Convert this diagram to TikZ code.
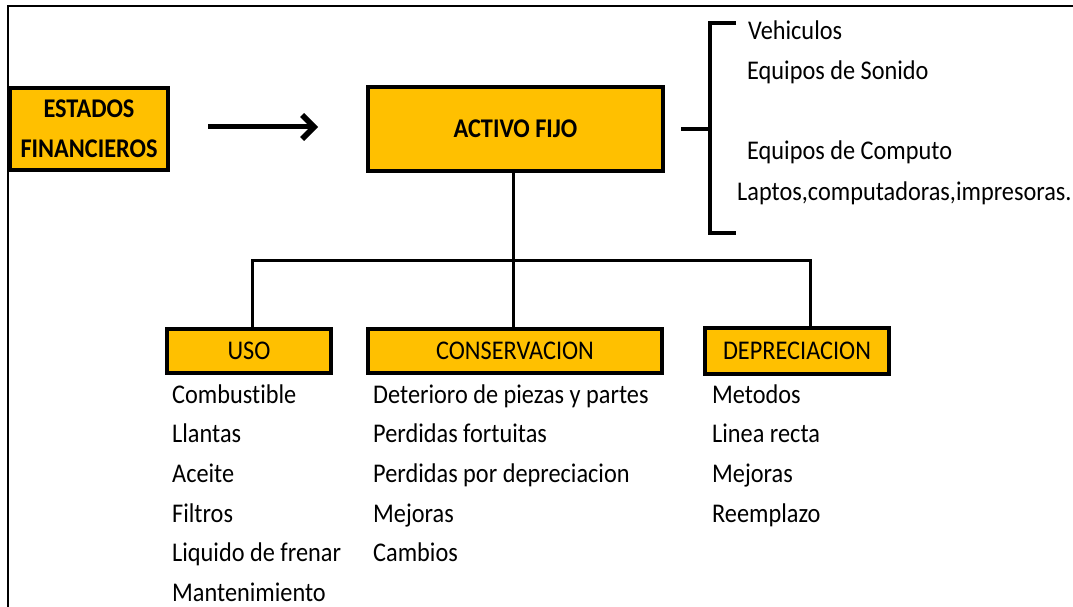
\documentclass[tikz,border=0pt]{standalone}
\usepackage{fontspec}
\setmainfont{Carlito}[FakeStretch=0.9,Ligatures=NoCommon]
\usetikzlibrary{arrows.meta}
\definecolor{gold}{HTML}{FFC000}
\tikzset{
  hbox/.style={draw=black, fill=gold, line width=3.5pt, inner sep=0pt, align=center},
  bigbox/.style={hbox, line width=4pt, font=\fontsize{27}{40}\selectfont\bfseries},
  catbox/.style={hbox, font=\fontsize{27}{27}\selectfont},
  item/.style={anchor=base west, inner sep=0pt, font=\fontsize{27}{27}\selectfont},
  conn/.style={line width=3pt},
  brk/.style={line width=4.5pt},
}
\begin{document}
\begin{tikzpicture}[x=1pt,y=-1pt]
\useasboundingbox (0,0) rectangle (1073,607);
% frame
\draw[line width=2pt] (1073,6) -- (8,6) -- (8,607);
% main boxes
\node[bigbox, minimum width=158pt, minimum height=82pt] (efin) at (89,129) {ESTADOS\\FINANCIEROS};
\node[bigbox, minimum width=295pt, minimum height=84pt] (activo) at (515.5,129) {ACTIVO FIJO};
\coordinate (a1) at (208,127);
\coordinate (a2) at (318,127);
\draw[line width=5pt, -{Straight Barb[length=12pt,width=24pt,line width=5.5pt]}] (a1) -- (a2);
% bracket
\coordinate (bs) at (681,129);
\coordinate (bm) at (710,129);
\coordinate (bt) at (710,23);
\coordinate (bb) at (710,233);
\coordinate (bte) at (736,23);
\coordinate (bbe) at (736,233);
\draw[brk] (bs) -- (bm);
\draw[brk] (bte) -- (bt) -- (bb) -- (bbe);
\node[item] (v1) at (748,40) {Vehiculos};
\node[item] (v2) at (747,80) {Equipos de Sonido};
\node[item] (v3) at (747,160) {Equipos de Computo};
\node[item] (v4) at (737,200) {Laptos,computadoras,impresoras.};
% category boxes
\node[catbox, minimum width=164pt, minimum height=44pt] (uso) at (249,351) {USO};
\node[catbox, minimum width=294pt, minimum height=44pt] (cons) at (515,351) {CONSERVACION};
\node[catbox, minimum width=184pt, minimum height=46pt] (dep) at (797,351) {DEPRECIACION};
% connectors
\coordinate (j) at (513,260);
\coordinate (ju) at (252,260);
\coordinate (jd) at (810,260);
\draw[conn] (activo.south -| j) -- (cons.north -| j);
\draw[conn] (uso.north -| ju) -- (ju) -- (jd) -- (dep.north -| jd);
% lists
\foreach \t [count=\i] in {Combustible,Llantas,Aceite,Filtros,Liquido de frenar,Mantenimiento}
  \node[item] (u\i) at (172,{403+39.7*(\i-1)}) {\t};
\foreach \t [count=\i] in {Deterioro de piezas y partes,Perdidas fortuitas,Perdidas por depreciacion,Mejoras,Cambios}
  \node[item] (c\i) at (373,{403+39.7*(\i-1)}) {\t};
\foreach \t [count=\i] in {Metodos,Linea recta,Mejoras,Reemplazo}
  \node[item] (d\i) at (712,{403+39.7*(\i-1)}) {\t};
\end{tikzpicture}
\end{document}
